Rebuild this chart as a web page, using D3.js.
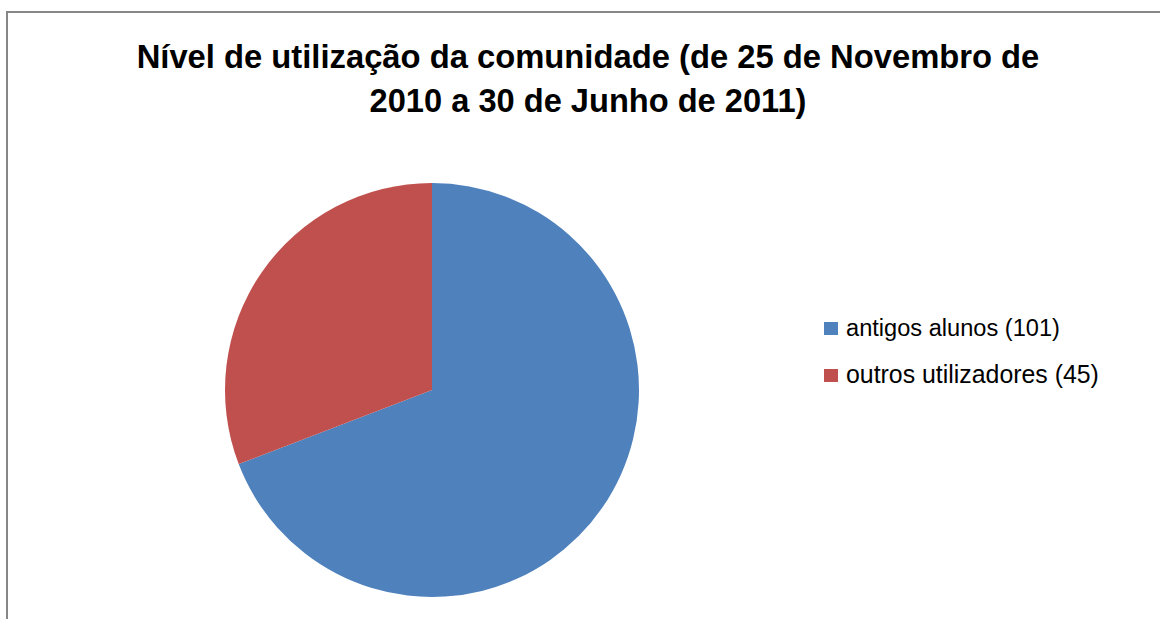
<!DOCTYPE html>
<html>
<head>
<meta charset="utf-8">
<script src="https://cdn.jsdelivr.net/npm/d3@7"></script>
<style>
body { margin: 0; background: #fff; }
text { font-family: "Liberation Sans", "DejaVu Sans", sans-serif; }
</style>
</head>
<body>
<div id="chart"></div>
<script>
var svgWidth = 1160;
var svgHeight = 619;

// data
var categories = ["antigos alunos (101)", "outros utilizadores (45)"];
var values = [101, 45];
var colors = ["#4f81bd", "#c0504d"];
var titleLines = ["Nível de utilização da comunidade (de 25 de Novembro de", "2010 a 30 de Junho de 2011)"];

var svg = d3.select("#chart")
	.append("svg")
	.attr("width", svgWidth)
	.attr("height", svgHeight);

svg.append("rect")
	.attr("width", svgWidth).attr("height", svgHeight)
	.attr("fill", "#fff");

// chart frame (runs off right / bottom)
svg.append("rect")
	.attr("x", 7).attr("y", 12)
	.attr("width", 1200).attr("height", 700)
	.attr("fill", "none")
	.attr("stroke", "#878787")
	.attr("stroke-width", 2);

// title, fitted to the widths seen in the reference
var titleWidths = [903, 437];
var titleY = [68, 112];
titleLines.forEach(function (line, i) {
	var t = svg.append("text")
		.attr("x", 588)
		.attr("y", titleY[i])
		.attr("text-anchor", "middle")
		.style("font-weight", "bold")
		.style("font-size", "27px")
		.attr("fill", "#000")
		.text(line);
	var w = t.node().getComputedTextLength();
	t.style("font-size", (27 * titleWidths[i] / w) + "px");
});

var radius = 207;
var pie = d3.pie().sort(null).value(d => d);
var arc = d3.arc().innerRadius(0).outerRadius(radius);

var g = svg.append("g").attr("transform", "translate(432,390)");
g.selectAll("path")
	.data(pie(values))
	.enter()
	.append("path")
	.attr("d", arc)
	.attr("fill", (d, i) => colors[i]);

// legend
var legend = svg.append("g").attr("transform", "translate(824,322)");
var item = legend.selectAll("g")
	.data(categories)
	.enter()
	.append("g")
	.attr("transform", (d, i) => "translate(0," + (i * 47) + ")");
item.append("rect")
	.attr("width", 14).attr("height", 13)
	.attr("fill", (d, i) => colors[i]);
item.append("text")
	.attr("x", 22)
	.attr("y", 14)
	.style("font-size", "20px")
	.attr("fill", "#000")
	.text(d => d)
	.each(function (d, i) {
		var target = i == 0 ? 214 : 253;
		var w = this.getComputedTextLength();
		d3.select(this).style("font-size", (20 * target / w) + "px");
	});
</script>
</body>
</html>
